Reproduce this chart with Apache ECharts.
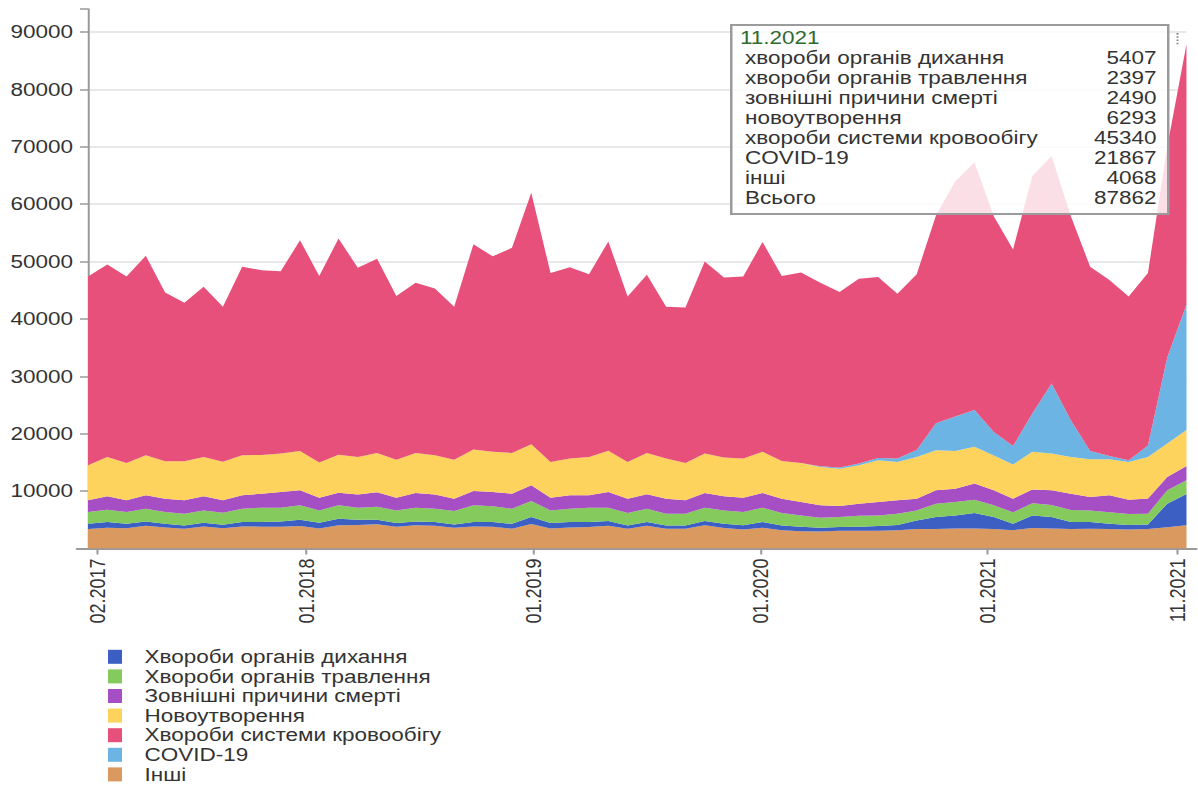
<!DOCTYPE html>
<html><head><meta charset="utf-8">
<script src="https://cdn.jsdelivr.net/npm/echarts@6/dist/echarts.min.js"></script>
<style>
html,body{margin:0;padding:0;overflow:hidden;background:#fff;width:1198px;height:785px}
#c{width:958.4px;height:785px;transform:scaleX(1.25);transform-origin:0 0}
</style></head><body><div id="c"></div>
<script>
const months = ['02.2017','03.2017','04.2017','05.2017','06.2017','07.2017','08.2017','09.2017','10.2017','11.2017','12.2017',
'01.2018','02.2018','03.2018','04.2018','05.2018','06.2018','07.2018','08.2018','09.2018','10.2018','11.2018','12.2018',
'01.2019','02.2019','03.2019','04.2019','05.2019','06.2019','07.2019','08.2019','09.2019','10.2019','11.2019','12.2019',
'01.2020','02.2020','03.2020','04.2020','05.2020','06.2020','07.2020','08.2020','09.2020','10.2020','11.2020','12.2020',
'01.2021','02.2021','03.2021','04.2021','05.2021','06.2021','07.2021','08.2021','09.2021','10.2021','11.2021'];
const xTickLabels = ['02.2017','01.2018','01.2019','01.2020','01.2021','11.2021'];

const other = [3410,3600,3510,3960,3660,3420,3840,3540,3850,3800,3810,3910,3490,4040,4110,4210,3780,4060,3950,3600,3850,3800,3450,4280,3480,3650,3750,3980,3420,3950,3420,3420,4030,3560,3300,3600,3170,3000,2950,3080,3100,3100,3200,3390,3380,3470,3470,3380,3200,3570,3480,3400,3450,3410,3300,3400,3710,4068];
const respiratory = [900,1000,800,750,650,600,650,600,750,800,900,1100,1000,1150,900,800,650,650,650,600,750,800,850,1200,950,950,850,800,600,650,600,600,750,750,750,1000,850,800,650,650,700,800,900,1500,2100,2300,2700,2100,1100,2200,2000,1200,1150,900,800,800,4100,5407];
const digestive = [2040,2160,2040,2230,2040,2040,2150,2090,2340,2510,2400,2510,2150,2330,2100,2280,2210,2400,2340,2320,2920,2740,2640,2790,2210,2340,2510,2330,2150,2340,2040,2040,2330,2330,2300,2510,2150,1970,1760,1770,1900,1870,1960,1750,2330,2330,2340,2040,2000,2130,2120,2100,2000,1990,1900,1860,2330,2397];
const external = [2040,2330,2040,2320,2330,2330,2450,2160,2320,2440,2740,2620,2220,2210,2320,2490,2220,2550,2490,2160,2500,2510,2620,2740,2220,2320,2150,2740,2510,2500,2620,2330,2570,2450,2510,2570,2510,2330,2160,1900,2110,2330,2340,2040,2330,2330,2800,2620,2380,2360,2540,2860,2370,2960,2510,2640,2320,2490];
const neoplasms = [6110,6870,6510,6990,6520,6810,6860,6710,6990,6750,6700,6860,6120,6620,6520,6870,6590,6990,6820,6770,7230,6990,7100,7170,6230,6420,6700,7160,6410,7220,7000,6520,6870,6760,6820,7160,6580,6810,6690,6500,6700,7280,6690,7280,6990,6570,6400,6060,5970,6580,6410,6400,6560,6270,6580,7260,5840,6293];
const covid = [0,0,0,0,0,0,0,0,0,0,0,0,0,0,0,0,0,0,0,0,0,0,0,0,0,0,0,0,0,0,0,0,0,0,0,0,0,0,100,200,300,400,600,1200,4700,6000,6400,4100,3200,6700,12200,6400,1450,580,300,2000,15000,21867];
const circulatory = [32900,33540,32500,34750,29400,27600,29650,27000,32850,32200,31750,36700,32520,37650,32950,33850,28550,29650,29050,26650,35750,34060,35740,43820,32910,33320,31840,36490,28810,31040,26420,27090,33450,31350,31720,36560,32240,33190,31990,30600,32190,31520,28710,30640,36170,41000,43190,37600,34250,41360,39650,35540,32120,30690,28510,30040,36700,45340];

const layers = [
  {name:'Інші', tip:'інші', data:other, color:'#d9995f'},
  {name:'Хвороби органів дихання', tip:'хвороби органів дихання', data:respiratory, color:'#3c5fc4'},
  {name:'Хвороби органів травлення', tip:'хвороби органів травлення', data:digestive, color:'#85ca5d'},
  {name:'Зовнішні причини смерті', tip:'зовнішні причини смерті', data:external, color:'#a64fc4'},
  {name:'Новоутворення', tip:'новоутворення', data:neoplasms, color:'#fdd35d'},
  {name:'COVID-19', tip:'COVID-19', data:covid, color:'#6cb4e4'},
  {name:'Хвороби системи кровообігу', tip:'хвороби системи кровообігу', data:circulatory, color:'#e7507b'}
];
const legendOrder = ['Хвороби органів дихання','Хвороби органів травлення','Зовнішні причини смерті','Новоутворення','Хвороби системи кровообігу','COVID-19','Інші'];
const totalLabel = 'Всього';

const FONT = '"Liberation Sans", Arial, sans-serif';
const last = months.length - 1;
const total = layers.reduce((s, l) => s + l.data[last], 0);
const tickIdx = xTickLabels.map(t => months.indexOf(t));
const showIdx = (i) => tickIdx.indexOf(i) >= 0;

const tipRows = legendOrder.map(n => {
  const l = layers.find(x => x.name === n);
  return [l.tip, l.data[last]];
});
tipRows.push([totalLabel, total]);

const tipEls = [
  {type:'rect', left:584, top:24, z:100, shape:{x:0, y:0, width:349.6, height:189},
    style:{fill:'rgba(255,255,255,0.82)', stroke:'#9b9b9b', lineWidth:2}},
  {type:'text', left:592, top:29, z:110,
    style:{text:months[last], fill:'#2e6b2e', fontSize:18, fontFamily:FONT}}
];
tipRows.forEach((r, k) => {
  tipEls.push({type:'text', left:596, top:49 + 20*k, z:110,
    style:{text:r[0], fill:'#333', fontSize:18, fontFamily:FONT}});
  tipEls.push({type:'text', right:958.4 - 925.6, top:49 + 20*k, z:110,
    style:{text:String(r[1]), fill:'#333', fontSize:18, fontFamily:FONT}});
});

const chart = echarts.init(document.getElementById('c'), null, {renderer:'svg'});
const series = layers.map(l => ({
  name:l.name, type:'line', stack:'total', xAxisIndex:0, yAxisIndex:0,
  data:l.data, symbol:'none', showSymbol:false, silent:true,
  lineStyle:{width:0, color:l.color}, itemStyle:{color:l.color},
  areaStyle:{color:l.color, opacity:1}, emphasis:{disabled:true}
}));
series.push({
  name:'_pointer', type:'line', xAxisIndex:1, yAxisIndex:0, data:months.map(() => null),
  symbol:'none', silent:true, lineStyle:{width:0},
  markLine:{symbol:'none', silent:true, label:{show:false}, animation:false,
    lineStyle:{type:'dotted', color:'#8a8a8a', width:1.6},
    data:[[{coord:[months[last], total]}, {coord:[months[last], 90000]}]]}
});

chart.setOption({
  animation:false,
  backgroundColor:'#fff',
  textStyle:{fontFamily:FONT},
  grid:[
    {left:70.4, right:8.8, top:9, bottom:236.5, containLabel:false, outerBoundsMode:'none'},
    {left:61.6, right:0.8, top:9, bottom:236.5, containLabel:false, outerBoundsMode:'none'}
  ],
  legend:{orient:'vertical', left:86.4, top:647, padding:0, itemWidth:11.2, itemHeight:14, itemGap:0, icon:'rect',
    data:legendOrder, selectedMode:false,
    textStyle:{fontFamily:FONT, fontSize:18, color:'#333', lineHeight:19.6, padding:[0,0,0,13]}},
  xAxis:[
    {type:'category', gridIndex:0, data:months, boundaryGap:false, position:'bottom',
      axisLine:{show:false}, axisTick:{show:false}, axisLabel:{show:false}, splitLine:{show:false}},
    {type:'category', gridIndex:0, data:months, boundaryGap:true, position:'bottom', offset:0,
      axisLine:{show:false},
      axisTick:{show:true, alignWithLabel:true, interval:(i) => showIdx(i), length:6, lineStyle:{color:'#999', width:1.6}},
      axisLabel:{interval:(i) => showIdx(i), rotate:90, margin:10, fontSize:18, color:'#333', fontFamily:FONT},
      splitLine:{show:false}},
    {type:'value', gridIndex:1, min:0, max:1, position:'bottom',
      axisLine:{show:true, onZero:false, lineStyle:{color:'#9a9a9a', width:2}},
      axisTick:{show:false}, axisLabel:{show:false}, splitLine:{show:false}}
  ],
  yAxis:[
    {type:'value', gridIndex:0, min:0, max:94000, interval:10000,
      axisLine:{show:true, lineStyle:{color:'#9a9a9a', width:1.6}},
      axisTick:{show:true, length:6.4, lineStyle:{color:'#9a9a9a', width:1.5}},
      axisLabel:{margin:12, color:'#333', fontSize:18, fontFamily:FONT,
        formatter:(v) => (v > 0 && v % 10000 === 0) ? String(v) : ''},
      splitLine:{show:true, showMaxLine:false, lineStyle:{color:'#e8e8e8', width:2}}},
    {type:'value', gridIndex:1, min:0, max:1, show:false}
  ],
  graphic:tipEls,
  series:series
});
</script></body></html>
